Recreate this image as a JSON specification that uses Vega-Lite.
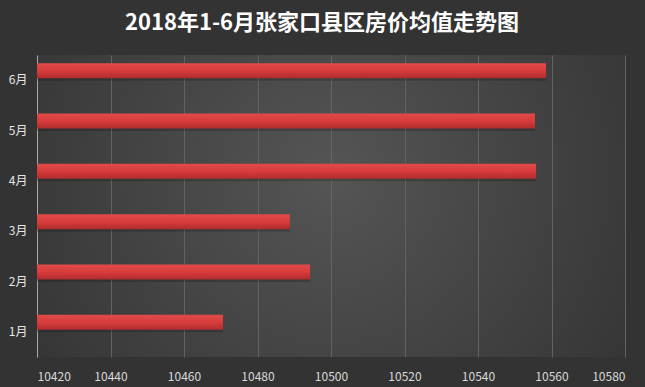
{
  "$schema": "https://vega.github.io/schema/vega-lite/v6.json",
  "width": 588,
  "height": 302,
  "autosize": {"type": "none"},
  "padding": {"left": 37, "top": 55, "right": 20, "bottom": 30},
  "background": "#333333",
  "title": {
    "text": "2018年1-6月张家口县区房价均值走势图",
    "font": "Noto Sans CJK SC",
    "fontSize": 22,
    "fontWeight": "bold",
    "color": "#ffffff",
    "anchor": "middle",
    "offset": 20,
    "dx": -9
  },
  "config": {
    "font": "Noto Sans CJK SC",
    "view": {
      "stroke": null,
      "fill": {
        "gradient": "radial",
        "x1": 0.5, "y1": 0.45, "r1": 0,
        "x2": 0.5, "y2": 0.45, "r2": 0.62,
        "stops": [
          {"offset": 0, "color": "#555555"},
          {"offset": 1, "color": "#343434"}
        ]
      }
    }
  },
  "data": {
    "values": [
      {"month": "1月", "price": 10470.6},
      {"month": "2月", "price": 10494.3},
      {"month": "3月", "price": 10488.8},
      {"month": "4月", "price": 10555.8},
      {"month": "5月", "price": 10555.5},
      {"month": "6月", "price": 10558.5}
    ]
  },
  "encoding": {
    "y": {
      "field": "month",
      "type": "nominal",
      "sort": ["6月", "5月", "4月", "3月", "2月", "1月"],
      "axis": {
        "title": null,
        "domain": true,
        "domainColor": "#a8a8a8",
        "domainWidth": 1,
        "ticks": false,
        "grid": false,
        "labelColor": "#e6e6e6",
        "labelFontSize": 12,
        "labelPadding": 10,
        "labelFont": "Noto Sans CJK SC"
      }
    },
    "x": {
      "field": "price",
      "type": "quantitative",
      "scale": {"domain": [10420, 10580], "nice": false, "zero": false},
      "axis": {
        "title": null,
        "values": [10420, 10440, 10460, 10480, 10500, 10520, 10540, 10560, 10580],
        "format": "d",
        "domain": false,
        "ticks": false,
        "grid": true,
        "gridColor": "#636363",
        "gridWidth": 1,
        "labelColor": "#d9d9d9",
        "labelFontSize": 12,
        "labelPadding": 14,
        "labelFont": "Noto Sans CJK SC"
      }
    },
    "x2": {"datum": 10420}
  },
  "layer": [
    {
      "mark": {"type": "bar", "size": 15, "yOffset": -7, "color": "#000000", "opacity": 0.18}
    },
    {
      "mark": {
        "type": "bar",
        "size": 15,
        "yOffset": -9.5,
        "color": {
          "gradient": "linear",
          "x1": 0, "y1": 0, "x2": 0, "y2": 1,
          "stops": [
            {"offset": 0, "color": "#e24a4a"},
            {"offset": 0.5, "color": "#d83c3c"},
            {"offset": 1, "color": "#b02c2e"}
          ]
        }
      }
    }
  ]
}
